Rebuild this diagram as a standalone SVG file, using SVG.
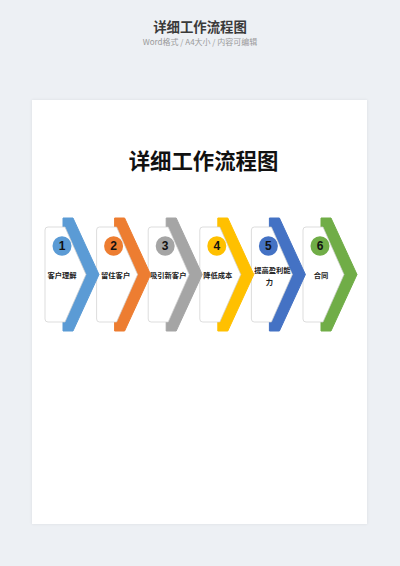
<svg xmlns="http://www.w3.org/2000/svg" width="400" height="566" viewBox="0 0 400 566">
<style>
.hd{font-family:"Noto Sans CJK SC","Noto Sans",sans-serif;text-anchor:middle}
.card{fill:#fff;stroke:#cfcfcf;stroke-width:0.7;stroke-linejoin:round}
.lbl{font-family:"Noto Sans CJK SC","Noto Sans",sans-serif;font-size:7.3px;font-weight:bold;fill:#222;text-anchor:middle}
.num{font-family:"Liberation Sans","Noto Sans",sans-serif;font-size:12px;font-weight:bold;fill:#111;text-anchor:middle}
.arr{stroke-linejoin:round;stroke-width:1}
</style>
<defs>
<filter id="sh" x="-10%" y="-10%" width="120%" height="120%">
<feDropShadow dx="0" dy="0" stdDeviation="1.5" flood-color="#000" flood-opacity="0.08"/>
</filter>
<path id="arrow" d="M0,218 L10,218 L36,274.5 L10,331 L0,331 Z"/>
<path id="cardp" d="M-15,227 L2,227 L23,274.5 L2,322 L-15,322 Q-18,322 -18,319 L-18,230 Q-18,227 -15,227 Z"/>
</defs>
<rect width="400" height="566" fill="#edf0f4"/>
<text class="hd" x="200" y="32" font-size="13.4" font-weight="bold" fill="#3a3a3a">详细工作流程图</text>
<text class="hd" x="200" y="45" font-size="8" fill="#9a9a9a">Word格式 / A4大小 / 内容可编辑</text>
<rect x="32" y="100" width="335" height="424" fill="#fff" filter="url(#sh)"/>
<text class="hd" x="203.5" y="168.5" font-size="21.4" font-weight="bold" fill="#111">详细工作流程图</text>
<g id="connectors"/>
<g id="node6" transform="translate(321,0)">
<use href="#arrow" class="arr" fill="#70ad47" stroke="#70ad47"/>
<use href="#cardp" class="card"/>
<ellipse cx="-1" cy="246" rx="9.5" ry="9.8" fill="#70ad47"/>
<text class="num" x="-1" y="250.3">6</text>
<text class="lbl" x="0" y="277.8">合同</text>
</g>
<g id="node5" transform="translate(269.4,0)">
<use href="#arrow" class="arr" fill="#4472c4" stroke="#4472c4"/>
<use href="#cardp" class="card"/>
<ellipse cx="-1" cy="246" rx="9.5" ry="9.8" fill="#4472c4"/>
<text class="num" x="-1" y="250.3">5</text>
<text class="lbl" x="3" y="272.6">提高盈利能</text>
<text class="lbl" x="0" y="285.4">力</text>
</g>
<g id="node4" transform="translate(217.8,0)">
<use href="#arrow" class="arr" fill="#ffc000" stroke="#ffc000"/>
<use href="#cardp" class="card"/>
<ellipse cx="-1" cy="246" rx="9.5" ry="9.8" fill="#ffc000"/>
<text class="num" x="-1" y="250.3">4</text>
<text class="lbl" x="0" y="277.8">降低成本</text>
</g>
<g id="node3" transform="translate(166.2,0)">
<use href="#arrow" class="arr" fill="#a5a5a5" stroke="#a5a5a5"/>
<use href="#cardp" class="card"/>
<ellipse cx="-1" cy="246" rx="9.5" ry="9.8" fill="#a5a5a5"/>
<text class="num" x="-1" y="250.3">3</text>
<text class="lbl" x="2" y="277.8">吸引新客户</text>
</g>
<g id="node2" transform="translate(114.6,0)">
<use href="#arrow" class="arr" fill="#ed7d31" stroke="#ed7d31"/>
<use href="#cardp" class="card"/>
<ellipse cx="-1" cy="246" rx="9.5" ry="9.8" fill="#ed7d31"/>
<text class="num" x="-1" y="250.3">2</text>
<text class="lbl" x="1" y="277.8">留住客户</text>
</g>
<g id="node1" transform="translate(63,0)">
<use href="#arrow" class="arr" fill="#5b9bd5" stroke="#5b9bd5"/>
<use href="#cardp" class="card"/>
<ellipse cx="-1" cy="246" rx="9.5" ry="9.8" fill="#5b9bd5"/>
<text class="num" x="-1" y="250.3">1</text>
<text class="lbl" x="-1" y="277.8">客户理解</text>
</g>
</svg>
